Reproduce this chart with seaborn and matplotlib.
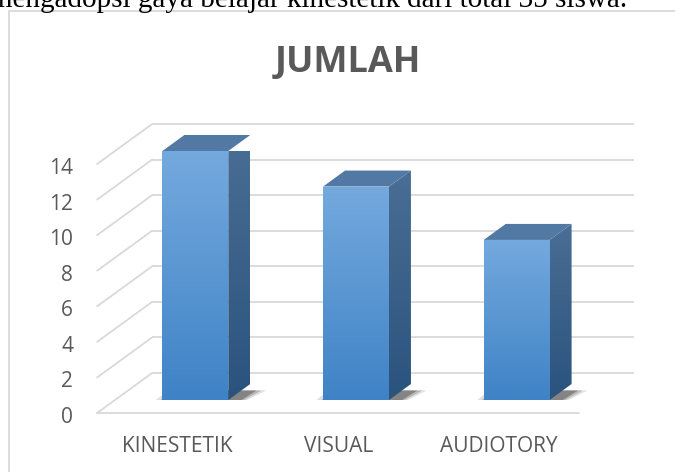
import numpy as np
import matplotlib
matplotlib.use("Agg")
import matplotlib.pyplot as plt
from matplotlib.patches import Polygon, Rectangle
from matplotlib.colors import to_rgb
import seaborn as sns

categories = ["KINESTETIK", "VISUAL", "AUDIOTORY"]
values = [14, 12, 9]
yticks = [0, 2, 4, 6, 8, 10, 12, 14]
title = "JUMLAH"
caption = "mengadopsi gaya belajar kinestetik dari total 35 siswa."

sns.set_theme(style="white")
plt.rcParams["font.family"] = ["Open Sans", "DejaVu Sans"]

fig = plt.figure(figsize=(6.75, 4.72), dpi=100)
W, H = 675, 472
# axes = plane of the bar front faces
ax = fig.add_axes([115 / W, (H - 400) / H, 482 / W, 249 / H])
ax.set_xlim(-0.5, 2.5)
ax.set_ylim(0, 14)

# depth of the 3d box, in data units (55 px right, 40 px up)
px_x = 482 / 3
px_y = 249 / 14
DX, DY = 55 / px_x, 40 / px_y
fx, fy = -0.325 * DX, -0.325 * DY      # front edge of floor
bx, by = 0.675 * DX, 0.675 * DY        # back wall
bdx, bdy = 0.4 * DX, 0.4 * DY          # bar depth

grid_c = "#d9d9d9"
text_c = "#595959"

# walls
for v in yticks:
    ax.plot([-0.5 + bx, 2.5 + bx], [v + by, v + by], color=grid_c, lw=1.3,
            zorder=0.5, clip_on=False, solid_capstyle="butt")
    ax.plot([-0.5 + fx, -0.5 + bx], [v + fy, v + by], color=grid_c, lw=1.3,
            zorder=0.5, clip_on=False)
ax.plot([-0.5 + fx, 2.5 + fx], [fy, fy], color=grid_c, lw=1.3, zorder=0.5,
        clip_on=False)

# front faces
sns.barplot(x=categories, y=values, ax=ax, width=0.41, color="#5b9bd5",
            saturation=1, edgecolor="none", zorder=2)
ax.set_xlim(-0.5, 2.5)
ax.set_ylim(0, 14)


def gradient(poly, top, bottom, z):
    xs, ys = poly.get_xy()[:, 0], poly.get_xy()[:, 1]
    g = np.linspace(0, 1, 64)[:, None, None]
    img = (1 - g) * np.array(to_rgb(top)) + g * np.array(to_rgb(bottom))
    im = ax.imshow(img, extent=(xs.min(), xs.max(), ys.min(), ys.max()),
                   aspect="auto", origin="upper", zorder=z,
                   interpolation="bilinear")
    im.set_clip_path(poly)


for p in list(ax.patches):
    x0, w, h = p.get_x(), p.get_width(), p.get_height()
    x1 = x0 + w
    # soft shadow on the floor
    for k, a in zip([0.1, 0.07, 0.04], [0.12, 0.18, 0.28]):
        sh = Polygon([(x0 - k, -0.4), (x1 + k * 0.3, -0.4),
                      (x1 + bdx + k, bdy * 0.6), (x0 + bdx - k, bdy * 0.6)],
                     closed=True, facecolor="black", edgecolor="none",
                     alpha=a, zorder=1)
        ax.add_patch(sh)
    front = Polygon([(x0, 0), (x1, 0), (x1, h), (x0, h)], closed=True,
                    facecolor="none", edgecolor="none", zorder=2)
    ax.add_patch(front)
    gradient(front, "#74a9de", "#3f83c6", 2.1)
    side = Polygon([(x1, 0), (x1 + bdx, bdy), (x1 + bdx, h + bdy), (x1, h)],
                   closed=True, facecolor="none", edgecolor="none", zorder=2)
    ax.add_patch(side)
    gradient(side, "#4a6e95", "#2a537d", 2.1)
    top = Polygon([(x0, h), (x1, h), (x1 + bdx, h + bdy), (x0 + bdx, h + bdy)],
                  closed=True, facecolor="#5179a3", edgecolor="none", zorder=2.2,
                  clip_on=False)
    ax.add_patch(top)
    p.set_visible(False)

ax.set_xlim(-0.5, 2.5)
ax.set_ylim(0, 14)
ax.axis("off")

# tick labels on the front wall
for v in yticks:
    ax.text(-0.5 + fx - 24 / px_x, v + fy - 10 / px_y, str(v), ha="right",
            va="baseline", fontsize=15, color=text_c)
for i, c in enumerate(categories):
    ax.text(i + fx, -52 / px_y, c, ha="center", va="baseline", fontsize=15,
            color=text_c)

fig.text(347.5 / W, 1 - 72 / H, title, ha="center", va="baseline",
         fontsize=26, fontweight="bold", color=text_c)
fig.text(-10 / W, 1 - 7 / H, caption, ha="left", va="baseline",
         fontsize=21, family=["Liberation Serif", "DejaVu Serif"], color="black")
fig.add_artist(Rectangle((8.5 / W, -0.1), 2, 1.1 - 11 / H,
                         transform=fig.transFigure, fill=False,
                         edgecolor=grid_c, lw=1.3))

fig.savefig("out.png", dpi=100)
